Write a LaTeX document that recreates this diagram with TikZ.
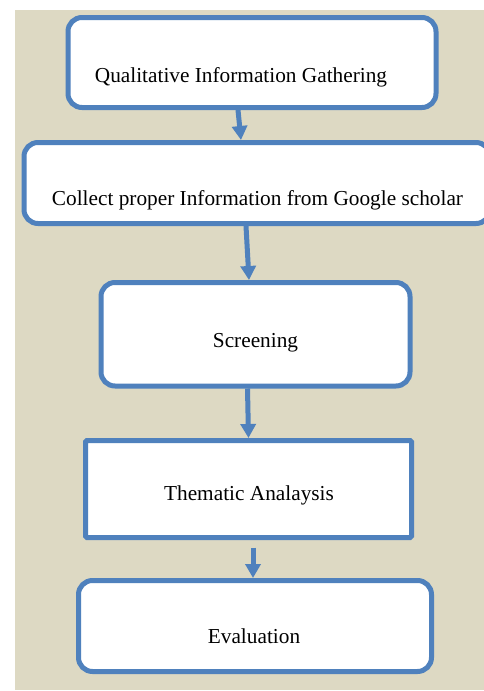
\documentclass[tikz,border=0pt]{standalone}
\usepackage{fontspec}
\setmainfont{Liberation Serif}
\usepackage{tikz}
\usetikzlibrary{arrows.meta, calc}
\definecolor{boxblue}{HTML}{4F81BD}
\definecolor{panel}{HTML}{DDD9C3}
\tikzset{
    block_round/.style={rectangle, draw=boxblue, line width=5pt, rounded corners=14pt, fill=white, inner sep=0pt},
    block_plain/.style={rectangle, draw=boxblue, line width=5pt, rounded corners=1.5pt, fill=white, inner sep=0pt},
    block_text/.style={anchor=base, inner sep=0pt, font=\fontsize{21.3}{25}\selectfont},
    arrow/.style={-{Triangle[width=15pt,length=14pt]}, line width=5pt, draw=boxblue}
}
\begin{document}
\begin{tikzpicture}[x=1pt,y=-1pt]

\useasboundingbox (0,0) rectangle (484,691);
\fill[panel] (15,10) rectangle (484,690);

\node (gather) [block_round, minimum width=368, minimum height=90] at (252,62.5) {};
\node (gathertext) [block_text] at (241,82) {Qualitative Information Gathering};

\node (collect) [block_round, minimum width=466, minimum height=81] at (257,183) {};
\node (collecttext) [block_text] at (257.5,205) {Collect proper Information from Google scholar};

\node (screen) [block_round, minimum width=309, minimum height=103.5] at (255.5,334.25) {};
\node (screentext) [block_text] at (255.5,347) {Screening};

\node (thematic) [block_plain, minimum width=326, minimum height=97] at (248.5,489) {};
\node (thematictext) [block_text] at (249,500) {Thematic Analaysis};

\node (eval) [block_round, minimum width=353, minimum height=91] at (255,626) {};
\node (evaltext) [block_text] at (254,643) {Evaluation};

% Main flow
\draw[arrow] ([xshift=-14pt]gather.south) -- ([xshift=-16pt]collect.north);
\draw[arrow] ([xshift=-11pt]collect.south) -- ([xshift=-6.5pt]screen.north);
\draw[arrow] ([xshift=-8pt]screen.south) -- (thematic.north);
\draw[arrow, shorten <=7.5pt] ([xshift=4.5pt]thematic.south) -- ([xshift=-2pt]eval.north);

\end{tikzpicture}
\end{document}
